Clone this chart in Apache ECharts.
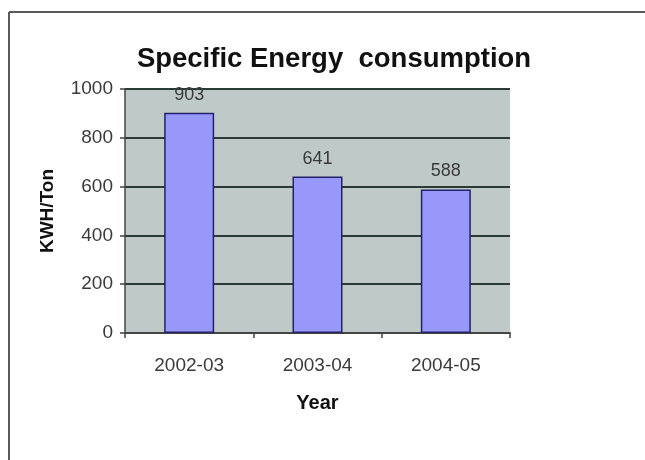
<!DOCTYPE html>
<html>
<head>
<meta charset="utf-8">
<script src="https://cdn.jsdelivr.net/npm/echarts@6/dist/echarts.min.js"></script>
<style>
  html, body { margin: 0; padding: 0; background: #ffffff; }
  #chart { width: 645px; height: 460px; }
</style>
</head>
<body>
<div id="chart"></div>
<script>
// Specific energy consumption per year (KWH per ton)
const years = ['2002-03', '2003-04', '2004-05'];
const kwhPerTon = [903, 641, 588];
const yTicks = [0, 200, 400, 600, 800, 1000];

const chart = echarts.init(document.getElementById('chart'), null, { renderer: 'canvas' });

const font = '"Liberation Sans", Arial, sans-serif';

chart.setOption({
  backgroundColor: '#ffffff',
  animation: false,
  graphic: [
    // slide frame: top and left edges
    { type: 'line', shape: { x1: 9, y1: 12, x2: 645, y2: 12 }, style: { stroke: '#5a5a5a', lineWidth: 2 } },
    { type: 'line', shape: { x1: 9, y1: 12, x2: 9, y2: 460 }, style: { stroke: '#5a5a5a', lineWidth: 2 } }
  ],
  title: {
    text: 'Specific Energy  consumption',
    left: 329,
    textAlign: 'center',
    top: 40,
    textStyle: { fontFamily: font, fontSize: 27.5, fontWeight: 'bold', color: '#111111' }
  },
  grid: {
    left: 125, top: 89, width: 385, height: 244,
    show: true, backgroundColor: '#bfcac8', borderWidth: 0
  },
  xAxis: {
    type: 'category',
    data: years,
    name: 'Year',
    nameLocation: 'middle',
    nameGap: 60,
    nameTextStyle: { fontFamily: font, fontSize: 20, fontWeight: 'bold', color: '#111111' },
    axisLine: { lineStyle: { color: '#444444', width: 2 } },
    axisTick: { show: true, length: 5, alignWithLabel: false, lineStyle: { color: '#444444', width: 1.5 } },
    axisLabel: { fontFamily: font, fontSize: 19, color: '#3a3a3a', margin: 23 },
    splitLine: { show: false }
  },
  yAxis: {
    type: 'value',
    min: yTicks[0],
    max: yTicks[yTicks.length - 1],
    interval: yTicks[1] - yTicks[0],
    name: 'KWH/Ton',
    nameLocation: 'middle',
    nameGap: 68,
    nameRotate: 90,
    nameTextStyle: { fontFamily: font, fontSize: 19, fontWeight: 'bold', color: '#111111' },
    axisLine: { show: true, lineStyle: { color: '#444444', width: 1.5 } },
    axisTick: { show: true, length: 5, inside: false, lineStyle: { color: '#444444', width: 1.5 } },
    axisLabel: {
      fontFamily: font, fontSize: 19, color: '#3a3a3a', margin: 12,
      formatter: (v) => String(v)
    },
    splitLine: { show: true, lineStyle: { color: '#2c3a36', width: 2 } }
  },
  series: [{
    type: 'bar',
    data: kwhPerTon,
    barWidth: 50,
    itemStyle: { color: '#9898fb', borderColor: '#22226a', borderWidth: 1.5 },
    label: {
      show: true,
      position: 'top',
      distance: 9,
      fontFamily: font,
      fontSize: 18,
      color: '#3a3a3a'
    },
    z: 3
  }]
});
</script>
</body>
</html>
